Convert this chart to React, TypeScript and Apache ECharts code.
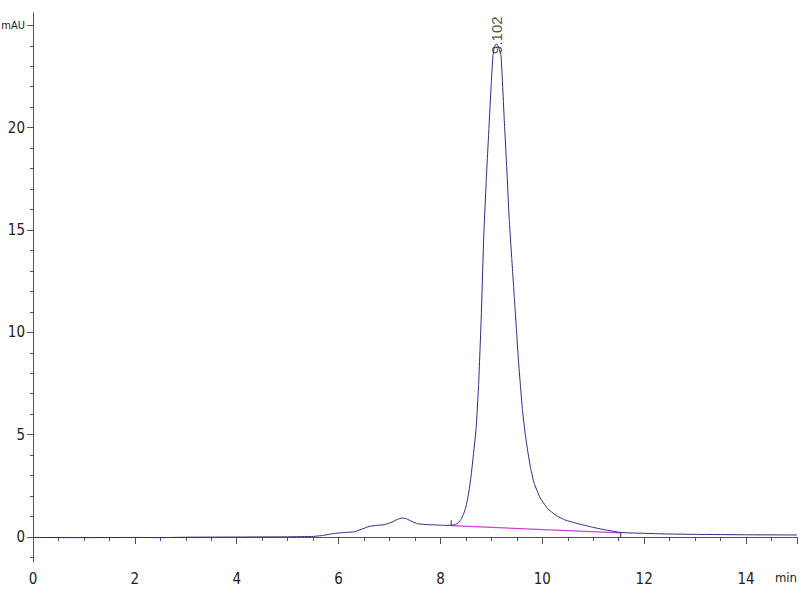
import React, { useEffect, useRef } from "react";
import * as echarts from "echarts";

// Chromatogram trace (time in min, signal in mAU)
const traceTime = [
  0, 1, 2, 2.5, 3, 4, 5, 5.5, 5.7, 5.9, 6.1, 6.3, 6.45, 6.6, 6.75, 6.9, 7.05, 7.15, 7.25, 7.33,
  7.45, 7.55, 7.7, 7.9, 8.1, 8.24, 8.3, 8.35, 8.4, 8.45, 8.5, 8.55, 8.6, 8.65, 8.7, 8.75, 8.8,
  8.85, 8.9, 8.95, 9.0, 9.03, 9.06, 9.1, 9.14, 9.19, 9.25, 9.3, 9.35, 9.4, 9.45, 9.5, 9.53, 9.57,
  9.61, 9.66, 9.71, 9.77, 9.84, 9.95, 10.1, 10.27, 10.45, 10.7, 10.95, 11.15, 11.54, 12.0, 12.45,
  13.0, 14.0, 15.0,
];
const traceSignal = [
  -0.02, -0.03, -0.02, -0.03, -0.01, 0.0, 0.01, 0.03, 0.08, 0.17, 0.22, 0.25, 0.38, 0.52, 0.57,
  0.6, 0.73, 0.86, 0.93, 0.89, 0.75, 0.65, 0.61, 0.59, 0.57, 0.58, 0.62, 0.7, 0.85, 1.1, 1.47,
  2.1, 2.95, 4.1, 5.3, 7.5, 10.7, 14.7, 17.5, 19.9, 22.3, 23.5, 23.95, 24.1, 23.95, 23.5, 20.5,
  18.1, 15.5, 13.6, 11.7, 9.8, 8.65, 7.4, 6.2, 5.1, 4.25, 3.35, 2.62, 1.95, 1.4, 1.05, 0.83,
  0.65, 0.5, 0.39, 0.22, 0.18, 0.15, 0.13, 0.11, 0.1,
];

// Integration baseline
const baselineTime = [8.21, 11.54];
const baselineSignal = [0.56, 0.2];

// Integration start / end markers
const startMarkTime = [8.21, 8.21];
const startMarkSignal = [0.56, 0.82];
const endMarkTime = [11.54, 11.54];
const endMarkSignal = [0.2, 0.0];

// Peak annotation
const peakTime = 9.102;
const peakLabelY = 23.6;
const peakLabel = "9.102";

// Axis ticks / labels
const yLabelValues = [0, 5, 10, 15, 20, 25];
const yMinorTicks = [-1, 0, 1, 2, 3, 4, 5, 6, 7, 8, 9, 10, 11, 12, 13, 14, 15, 16, 17, 18, 19, 20, 21, 22, 23, 24, 25];
const xLabelValues = [0, 2, 4, 6, 8, 10, 12, 14, 15];
const xMinorTicks = [0, 0.5, 1, 1.5, 2, 2.5, 3, 3.5, 4, 4.5, 5, 5.5, 6, 6.5, 7, 7.5, 8, 8.5, 9, 9.5, 10, 10.5, 11, 11.5, 12, 12.5, 13, 13.5, 14, 14.5, 15];
const xUnit = "min";
const yUnit = "mAU";

const zip = (a: number[], b: number[]) => a.map((v, i) => [v, b[i]]);

const tickFont = "'Liberation Sans Narrow', 'DejaVu Sans Condensed', sans-serif";
const axisColor = "#555";

export default function App() {
  const ref = useRef<HTMLDivElement>(null);
  useEffect(() => {
    document.body.style.margin = "0";
    const chart = echarts.init(ref.current!, null, { renderer: "svg" });
    const yBase = { type: "value", min: -1.22, max: 25.6, splitLine: { show: false } };
    const xBase = { type: "value", min: 0, max: 15, splitLine: { show: false } };
    chart.setOption({
      animation: false,
      backgroundColor: "#fff",
      grid: { left: 33, right: 3, top: 13, bottom: 38, containLabel: false, outerBoundsMode: "none" },
      xAxis: [
        {
          ...xBase,
          position: "bottom",
          axisLine: { show: true, lineStyle: { color: axisColor, width: 1 } },
          axisTick: { show: true, customValues: xLabelValues, length: 7, lineStyle: { color: axisColor } },
          axisLabel: {
            show: true,
            customValues: xLabelValues,
            formatter: (v: number) => (v === 15 ? "{u|" + xUnit + "}" : String(v)),
            alignMaxLabel: "right",
            margin: 9,
            fontFamily: tickFont,
            fontSize: 15,
            color: "#222",
            rich: { u: { fontFamily: tickFont, fontSize: 13, color: "#222" } },
          },
        },
        {
          ...xBase,
          position: "bottom",
          axisLine: { show: false },
          axisTick: { show: true, customValues: xMinorTicks, length: 4, lineStyle: { color: axisColor } },
          axisLabel: { show: false },
        },
      ],
      yAxis: [
        {
          ...yBase,
          position: "left",
          axisLine: { show: true, lineStyle: { color: axisColor, width: 1 } },
          axisTick: { show: true, customValues: yLabelValues, length: 6, lineStyle: { color: axisColor } },
          axisLabel: {
            show: true,
            customValues: yLabelValues,
            formatter: (v: number) => (v === 25 ? "{u|" + yUnit + "}" : String(v)),
            margin: 8,
            fontFamily: tickFont,
            fontSize: 15,
            color: "#222",
            rich: { u: { fontFamily: tickFont, fontSize: 11, color: "#222" } },
          },
        },
        {
          ...yBase,
          position: "left",
          axisLine: { show: false },
          axisTick: { show: true, customValues: yMinorTicks, length: 3, lineStyle: { color: axisColor } },
          axisLabel: { show: false },
        },
      ],
      series: [
        {
          type: "line",
          data: zip(baselineTime, baselineSignal),
          showSymbol: false,
          lineStyle: { color: "#cc44cc", width: 1.2 },
          z: 2,
        },
        {
          type: "line",
          data: zip(traceTime, traceSignal),
          showSymbol: false,
          smooth: 0.1,
          lineStyle: { color: "#2a2a80", width: 1 },
          z: 3,
        },
        {
          type: "line",
          data: zip(startMarkTime, startMarkSignal),
          showSymbol: false,
          lineStyle: { color: "#333", width: 1 },
        },
        {
          type: "line",
          data: zip(endMarkTime, endMarkSignal),
          showSymbol: false,
          lineStyle: { color: "#333", width: 1 },
        },
        {
          type: "scatter",
          data: [[peakTime, peakLabelY]],
          symbolSize: 0,
          z: 5,
          label: {
            show: true,
            formatter: peakLabel,
            position: "inside",
            rotate: 90,
            align: "left",
            verticalAlign: "middle",
            fontFamily: "'Liberation Sans', Arial, sans-serif",
            fontSize: 15,
            color: "#222",
          },
        },
      ],
    });
    return () => chart.dispose();
  }, []);
  return <div ref={ref} style={{ width: 800, height: 600 }} />;
}
